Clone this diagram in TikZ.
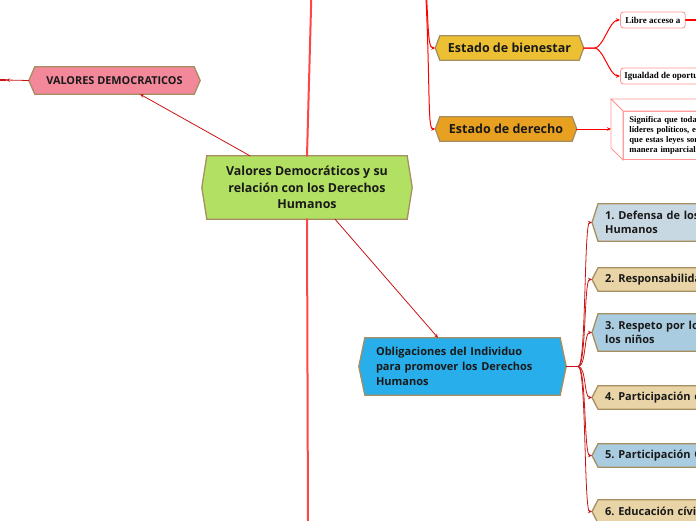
\documentclass[tikz,border=0pt]{standalone}
\usepackage{fontspec}
\usetikzlibrary{arrows.meta,calc,backgrounds}
\newfontfamily\mapfont{Open Sans}
\newfontfamily\notefont{Liberation Serif}
\frenchspacing

\definecolor{rimbrown}{RGB}{166,142,96}
\definecolor{maingreen}{RGB}{178,224,98}
\definecolor{valpink}{RGB}{242,136,154}
\definecolor{bienyellow}{RGB}{236,192,50}
\definecolor{derorange}{RGB}{232,160,32}
\definecolor{obliblue}{RGB}{40,174,234}
\definecolor{kidgrey}{RGB}{200,216,226}
\definecolor{kidtan}{RGB}{232,212,166}
\definecolor{kidblue}{RGB}{170,204,224}
\definecolor{linkred}{RGB}{200,20,20}
\definecolor{trunkred}{RGB}{255,70,70}
\definecolor{notepink}{RGB}{255,150,150}

\tikzset{
  hexbox/.style={inner sep=0pt, align=center, text=black!90},
  hexrim/.style={draw=rimbrown, line width=1.3pt, line join=miter},
  kidbox/.style={anchor=west, text width=220pt, inner xsep=7pt, align=left,
    font=\mapfont\bfseries\fontsize{11}{14.5}\selectfont},
  link/.style={draw=linkred, line width=0.8pt, -{Stealth[length=4pt,width=3.5pt]}},
  twig/.style={draw=red, line width=1pt, -{Stealth[length=4pt,width=3.5pt]}},
  trunk/.style={draw=trunkred, line width=2pt},
  notebox/.style={draw=notepink, line width=0.9pt, fill=white,
    font=\notefont\bfseries\fontsize{9}{10}\selectfont},
}

% hexagon behind a node: node, tip depth, fill
\newcommand{\hexfill}[3]{%
  \begin{pgfonlayer}{background}
    \filldraw[hexrim, fill=#3]
      (#1.north west) -- (#1.north east) -- ([xshift=#2]#1.east)
      -- (#1.south east) -- (#1.south west) -- ([xshift=-#2]#1.west) -- cycle;
  \end{pgfonlayer}}

\begin{document}
\begin{tikzpicture}[x=1pt, y=-1pt, line cap=round]

\useasboundingbox (0,0) rectangle (696,520);
\clip (0,0) rectangle (696,520);

%==================================================
% Central topic and first level
%==================================================
\node[hexbox, minimum width=200pt, minimum height=63pt,
  font=\mapfont\bfseries\fontsize{12.4}{16.5}\selectfont]
  (main) at (307,187.5) {Valores Democráticos y su\\relación con los Derechos\\Humanos};
\hexfill{main}{5pt}{maingreen}

\node[hexbox, minimum width=159pt, minimum height=27pt,
  font=\mapfont\bfseries\fontsize{10.9}{12}\selectfont]
  (valores) at (114.5,80.5) {VALORES DEMOCRATICOS};
\hexfill{valores}{6pt}{valpink}

\node[hexbox, minimum width=139pt, minimum height=24pt,
  font=\mapfont\bfseries\fontsize{12.5}{15}\selectfont]
  (bienestar) at (509.5,48) {Estado de bienestar};
\hexfill{bienestar}{4.5pt}{bienyellow}

\node[hexbox, minimum width=132pt, minimum height=24pt,
  font=\mapfont\bfseries\fontsize{12.5}{15}\selectfont]
  (derecho) at (506,129) {Estado de derecho};
\hexfill{derecho}{4.5pt}{derorange}

\node[hexbox, minimum width=195pt, minimum height=57pt, text width=173pt,
  inner xsep=11pt, align=left,
  font=\mapfont\bfseries\fontsize{11}{14.8}\selectfont]
  (oblig) at (462.5,366.5) {Obligaciones del Individuo\\para promover los Derechos\\Humanos};
\hexfill{oblig}{6pt}{obliblue}

%==================================================
% Notes of the two Estado topics
%==================================================
\node[notebox, rounded corners=3pt, anchor=west, minimum height=16pt, inner xsep=5pt]
  (libre) at (620,20) {Libre acceso a};
\node[notebox, rounded corners=3pt, anchor=west, minimum height=16pt, inner xsep=4pt]
  (igualdad) at (620,76) {Igualdad de oportunidades};

\node[notebox, anchor=north west, minimum height=48pt, text width=260pt,
  inner xsep=6pt, inner ysep=3pt, align=left,
  font=\notefont\bfseries\fontsize{8.6}{10.2}\selectfont]
  (signif) at (623,111)
  {Significa que todas las personas, incluidos los\\líderes políticos, están sujetos a las leyes y\\que estas leyes son aplicadas de\\manera imparcial.};
% box sides
\filldraw[draw=notepink, fill=white, line width=0.9pt]
  (signif.north west) -- ([shift={(-12pt,12pt)}]signif.north west)
  -- ([shift={(-12pt,12pt)}]signif.north east) -- (signif.north east) -- cycle;
\filldraw[draw=notepink, fill=white, line width=0.9pt]
  (signif.north west) -- ([shift={(-12pt,12pt)}]signif.north west)
  -- ([shift={(-12pt,12pt)}]signif.south west) -- (signif.south west) -- cycle;
\coordinate (signifSide) at ([xshift=-12pt]signif.west);

%==================================================
% Children of Obligaciones
%==================================================
\foreach \kid/\ky/\kh/\kfill/\ktext in {
  def/222.5/37/kidgrey/{1. Defensa de los Derechos\\Humanos},
  resp/279.5/23/kidtan/{2. Responsabilidad social},
  ninos/332.5/37/kidblue/{3. Respeto por los derechos de\\los niños},
  part/397.5/23/kidtan/{4. Participación en la comunidad},
  partc/455.5/23/kidblue/{5. Participación Ciudadana},
  educ/511.5/23/kidtan/{6. Educación cívica}}{
  \node[hexbox, kidbox, minimum height=\kh pt] (\kid) at (598,\ky) {\ktext};
  \hexfill{\kid}{6pt}{\kfill}
  \draw[link] ([xshift=6pt]oblig.east) -- ++(12pt,0)
    .. controls +(8pt,0) and +(-8pt,0) .. ([xshift=-6pt]\kid.west);
}

%==================================================
% Connectors
%==================================================
\coordinate (trunkTop) at (311.5,-10);
\coordinate (trunkBottom) at (308,530);
\coordinate (valoresKid) at (6,80);
\coordinate (estadoTop) at (424,-40);

\draw[trunk] (main.north) -- (trunkTop);
\draw[trunk] (main.south) -- (trunkBottom);

\draw[link] ([xshift=-57pt]main.north) -- ([xshift=25.5pt]valores.south);
\draw[link] ([xshift=28pt]main.south) -- ([xshift=-24.5pt]oblig.north);

\draw[link] ([xshift=-6pt]valores.west) -- (valoresKid);
\draw[draw=linkred, line width=1.5pt] (valoresKid) -- ++(-10pt,0);

% Estado branches from above
\draw[twig] (estadoTop) .. controls (429,20) and (427,48) .. ([xshift=-4.5pt]bienestar.west);
\draw[twig] (estadoTop) .. controls (431,80) and (427,129) .. ([xshift=-4.5pt]derecho.west);

\draw[twig] ([xshift=4.5pt]bienestar.east) -- ++(11pt,0)
  .. controls +(8pt,0) and +(-10pt,0) .. (libre.west);
\draw[twig] ([xshift=4.5pt]bienestar.east) -- ++(11pt,0)
  .. controls +(8pt,0) and +(-10pt,0) .. (igualdad.west);
\draw[draw=red, line width=1.5pt] (libre.east) -- ++(20pt,0);

\draw[twig] ([xshift=4.5pt]derecho.east) -- (derecho.east -| signifSide);

\end{tikzpicture}
\end{document}
